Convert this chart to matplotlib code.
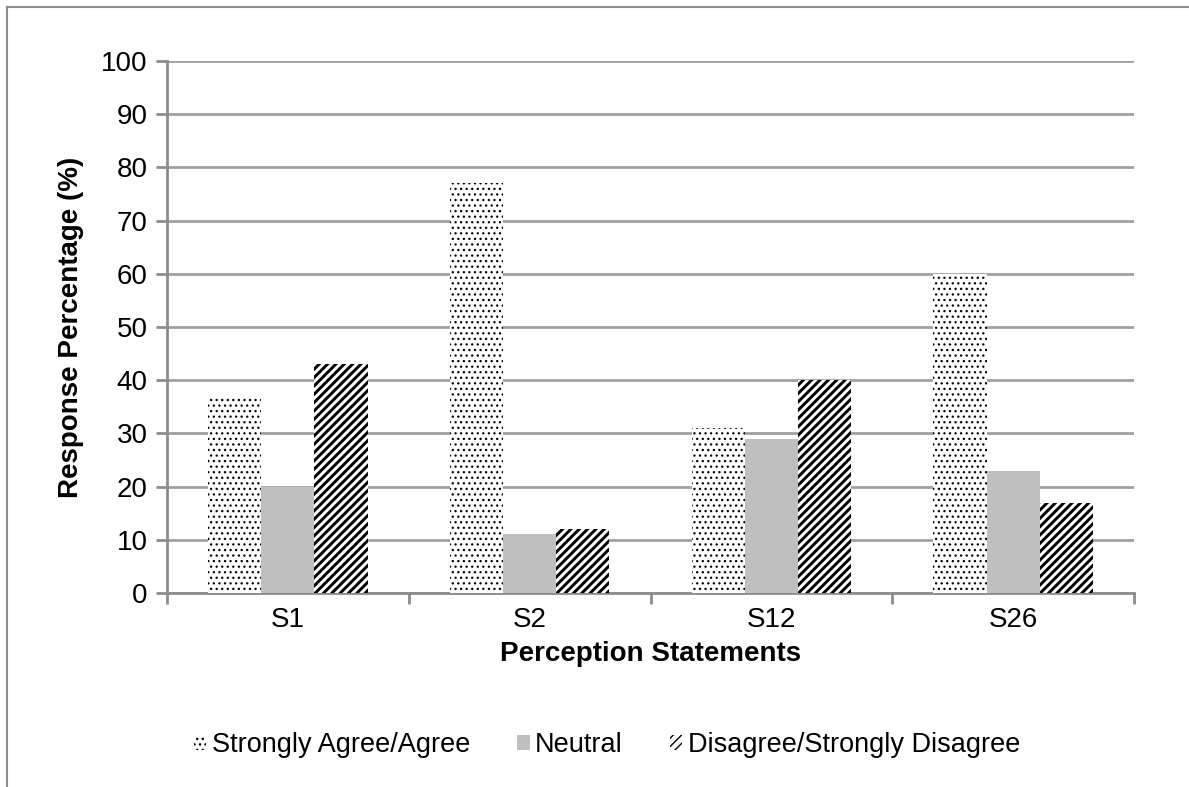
import matplotlib.pyplot as plt
import numpy as np
from matplotlib.lines import Line2D

plt.rcParams['font.family'] = ['Liberation Sans', 'DejaVu Sans']

statements = ['S1', 'S2', 'S12', 'S26']
agree = [37, 77, 31, 60]
neutral = [20, 11, 29, 23]
disagree = [43, 12, 40, 17]
series_labels = ['Strongly Agree/Agree', 'Neutral', 'Disagree/Strongly Disagree']

fig = plt.figure(figsize=(11.89, 7.87), dpi=100)
ax = fig.add_axes([167 / 1189, 1 - 593 / 787, (1134 - 167) / 1189, (593 - 61) / 787])

x = np.arange(len(statements))
w = 0.22
with plt.rc_context({'hatch.linewidth': 0.9}):
    ax.bar(x - w, agree, w, color='white', edgecolor='black', linewidth=0,
           hatch='...', label=series_labels[0], zorder=3)
ax.bar(x, neutral, w, color='#BFBFBF', linewidth=0,
       label=series_labels[1], zorder=3)
with plt.rc_context({'hatch.linewidth': 2.1}):
    ax.bar(x + w, disagree, w, color='white', edgecolor='black', linewidth=0,
           hatch='////', label=series_labels[2], zorder=3)

ax.set_xlim(-0.5, len(statements) - 0.5)
ax.set_ylim(0, 100)
ax.set_yticks(range(0, 101, 10))
ax.set_xticks(x)
ax.set_xticklabels(statements)
ax.set_xticks(np.arange(-0.5, len(statements)), minor=True)
ax.tick_params(axis='x', which='major', length=0, labelsize=20, pad=10)
ax.tick_params(axis='x', which='minor', length=8, width=2, color='#8C8C8C', direction='out')
ax.tick_params(axis='y', length=8, width=2, color='#8C8C8C', labelsize=20, pad=6)

ax.grid(axis='y', color='#A0A0A0', linewidth=2, zorder=0)
for side in ['top', 'right']:
    ax.spines[side].set_visible(False)
for side in ['left', 'bottom']:
    ax.spines[side].set_color('#8C8C8C')
    ax.spines[side].set_linewidth(2)

ax.set_xlabel('Perception Statements', fontsize=20, fontweight='bold', labelpad=6)
ax.set_ylabel('Response Percentage (%)', fontsize=20, fontweight='bold', labelpad=12)

fig.legend(loc='center', bbox_to_anchor=(607 / 1189, 1 - 745 / 787), ncol=3,
           frameon=False, fontsize=19.5, handlelength=0.45, handleheight=0.45,
           handletextpad=0.2, columnspacing=1.75)

# outer chart frame
fig.add_artist(Line2D([7 / 1189, 7 / 1189], [0, 1 - 7 / 787], transform=fig.transFigure,
                      color='#8C8C8C', linewidth=1.5))
fig.add_artist(Line2D([7 / 1189, 1], [1 - 7 / 787, 1 - 7 / 787], transform=fig.transFigure,
                      color='#8C8C8C', linewidth=1.5))

fig.savefig('out.png', dpi=100)
